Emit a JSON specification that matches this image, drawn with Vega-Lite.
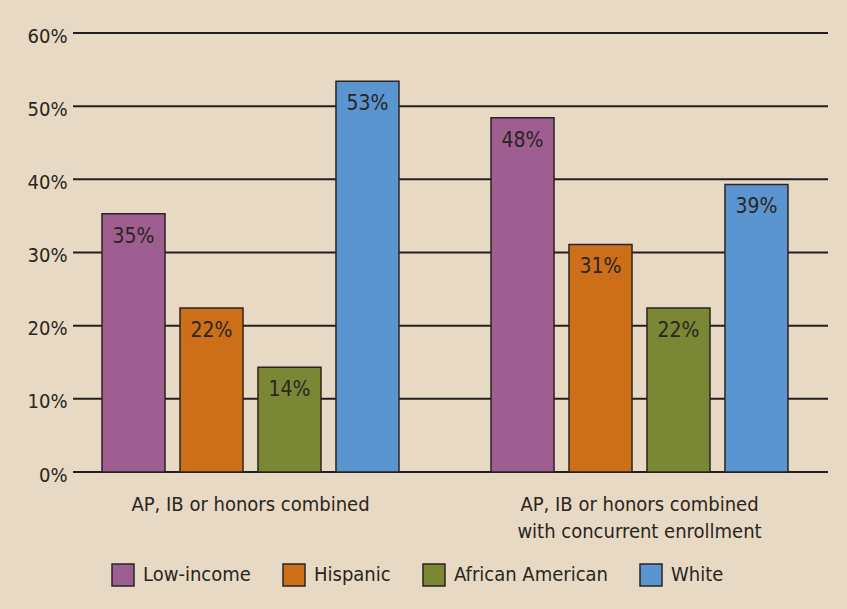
{
  "$schema": "https://vega.github.io/schema/vega-lite/v6.json",
  "width": 755,
  "height": 439,
  "autosize": {"type": "none"},
  "padding": {"left": 73, "top": 33, "right": 19, "bottom": 137},
  "background": "#e8d9c4",
  "config": {
    "view": {"stroke": null},
    "font": "'DejaVu Sans Condensed', Roboto",
    "axis": {"labelFont": "'DejaVu Sans Condensed', Roboto", "labelColor": "#2a2520"},
    "legend": {"labelFont": "'DejaVu Sans Condensed', Roboto", "labelColor": "#2a2520"}
  },
  "datasets": {
    "bars": [
      {"group": "AP, IB or honors combined", "category": "Low-income", "value": 0.353},
      {"group": "AP, IB or honors combined", "category": "Hispanic", "value": 0.224},
      {"group": "AP, IB or honors combined", "category": "African American", "value": 0.143},
      {"group": "AP, IB or honors combined", "category": "White", "value": 0.534},
      {"group": "AP, IB or honors combined with concurrent enrollment", "category": "Low-income", "value": 0.484},
      {"group": "AP, IB or honors combined with concurrent enrollment", "category": "Hispanic", "value": 0.311},
      {"group": "AP, IB or honors combined with concurrent enrollment", "category": "African American", "value": 0.224},
      {"group": "AP, IB or honors combined with concurrent enrollment", "category": "White", "value": 0.393}
    ],
    "grid": [
      {"value": 0}, {"value": 0.1}, {"value": 0.2}, {"value": 0.3},
      {"value": 0.4}, {"value": 0.5}, {"value": 0.6}
    ]
  },
  "layer": [
    {
      "data": {"name": "grid"},
      "mark": {"type": "rule", "color": "#231f20", "strokeWidth": 2},
      "encoding": {
        "y": {
          "field": "value",
          "type": "quantitative",
          "scale": {"domain": [0, 0.6], "nice": false},
          "axis": {
            "title": null,
            "format": ".0%",
            "values": [0, 0.1, 0.2, 0.3, 0.4, 0.5, 0.6],
            "ticks": false,
            "domain": false,
            "grid": false,
            "labelFontSize": 20,
            "labelPadding": 6,
            "labelOffset": 3,
            "labelBaseline": "middle"
          }
        }
      }
    },
    {
      "data": {"name": "bars"},
      "encoding": {
        "x": {
          "field": "group",
          "type": "nominal",
          "sort": null,
          "scale": {"range": [-17, 761], "paddingInner": 0, "paddingOuter": 0},
          "axis": {
            "title": null,
            "labelAngle": 0,
            "ticks": false,
            "domain": false,
            "grid": false,
            "labelFontSize": 20,
            "labelLimit": 0,
            "labelPadding": 38,
            "labelLineHeight": 27,
            "labelBaseline": "alphabetic",
            "labelExpr": "datum.value == 'AP, IB or honors combined with concurrent enrollment' ? ['AP, IB or honors combined', 'with concurrent enrollment'] : datum.label"
          }
        },
        "xOffset": {
          "field": "category",
          "type": "nominal",
          "sort": ["Low-income", "Hispanic", "African American", "White"],
          "scale": {"paddingInner": 0.192, "paddingOuter": 0.59}
        },
        "y": {"field": "value", "type": "quantitative"}
      },
      "layer": [
        {
          "mark": {"type": "bar", "stroke": "#2a2520", "strokeWidth": 1.5},
          "encoding": {
            "color": {
              "field": "category",
              "type": "nominal",
              "sort": ["Low-income", "Hispanic", "African American", "White"],
              "scale": {
                "domain": ["Low-income", "Hispanic", "African American", "White"],
                "range": ["#9e5e91", "#cd6f19", "#7a8735", "#5a95cf"]
              },
              "legend": {
                "title": null,
                "orient": "none",
                "direction": "horizontal",
                "legendX": 38,
                "legendY": 530,
                "symbolType": "square",
                "symbolSize": 484,
                "symbolStrokeColor": "#2a2520",
                "symbolStrokeWidth": 1.5,
                "symbolOpacity": 1,
                "labelFontSize": 20,
                "labelOffset": 8,
                "labelLimit": 0,
                "columnPadding": 29
              }
            }
          }
        },
        {
          "mark": {"type": "text", "baseline": "alphabetic", "dy": 29, "fontSize": 21, "color": "#2a2520"},
          "encoding": {
            "text": {"field": "value", "type": "quantitative", "format": ".0%"}
          }
        }
      ]
    }
  ]
}
